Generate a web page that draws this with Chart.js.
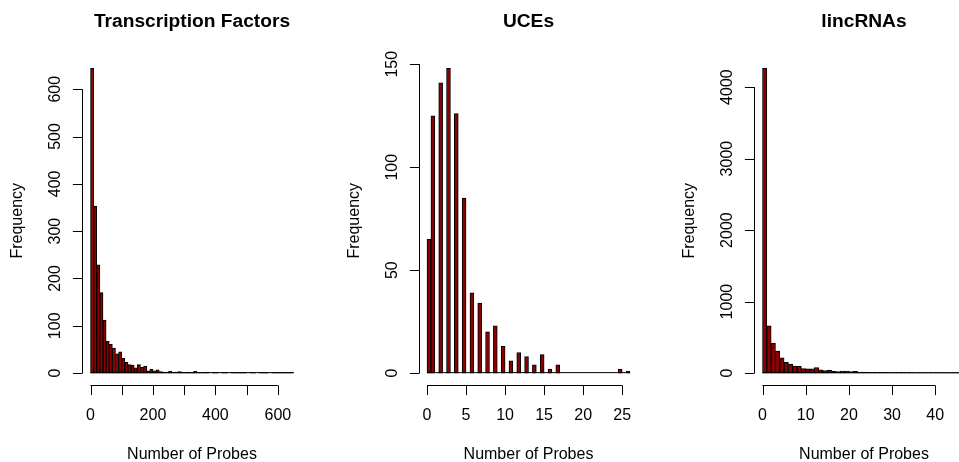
<!DOCTYPE html>
<html>
<head>
<meta charset="utf-8">
<script src="https://cdn.jsdelivr.net/npm/chart.js@4.4.0/dist/chart.umd.min.js"></script>
<style>
html,body{margin:0;padding:0;overflow:hidden;background:#fff;width:959px;height:462px;}
#wrap{position:relative;width:959px;height:462px;overflow:hidden;background:#fff;}
#wrap canvas{position:absolute;top:0;}
</style>
</head>
<body>
<div id="wrap">
<canvas id="c0" width="336" height="462" style="left:0px"></canvas>
<canvas id="c1" width="336" height="462" style="left:336px"></canvas>
<canvas id="c2" width="336" height="462" style="left:672px"></canvas>
</div>
<script>
// ---------- data ----------
const panelTitles = ["Transcription Factors", "UCEs", "lincRNAs"];
const xAxisTitle = "Number of Probes";
const yAxisTitle = "Frequency";

// Transcription Factors: histogram bins of width 10 starting at 0
const tfBinStart = 0;
const tfBinWidth = 10;
const tfCounts = [644,353,229,170,112,67,61,53,41,45,31,23,18,17,11,18,12,15,5,8,
                  5,7,3,2,2,4,2,2,3,2,1,2,1,4,1,1,1,2,0,1,
                  1,0,1,1,0,1,1,1,1,1,0,1,1,0,1,1,1,0,1,1,
                  1,1,1,1,2];
const tfXTicks = [0,100,200,300,400,500,600];
const tfXTickLabels = ["0","","200","","400","","600"];
const tfYTicks = [0,100,200,300,400,500,600];
const tfYTickLabels = ["0","100","200","300","400","500","600"];

// UCEs: histogram bins of width 0.5 starting at 0
const uceBinStart = 0;
const uceBinWidth = 0.5;
const uceCounts = [65,125,0,141,0,148,0,126,0,85,0,39,0,34,0,20,0,23,0,13,
                   0,6,0,10,0,8,0,4,0,9,0,2,0,4,0,0,0,0,0,0,
                   0,0,0,0,0,0,0,0,0,2,0,1];
const uceXTicks = [0,5,10,15,20,25];
const uceXTickLabels = ["0","5","10","15","20","25"];
const uceYTicks = [0,50,100,150];
const uceYTickLabels = ["0","50","100","150"];

// lincRNAs: histogram bins of width 1 starting at 0
const lincBinStart = 0;
const lincBinWidth = 1;
const lincCounts = [4262,660,415,308,215,150,125,98,97,62,60,60,77,45,35,38,25,22,28,28,
                    20,25,15,15,10,12,8,6,8,5,5,4,6,3,3,2,3,2,2,1,
                    2,1,1,1,1,2,1];
const lincXTicks = [0,10,20,30,40];
const lincXTickLabels = ["0","10","20","30","40"];
const lincYTicks = [0,1000,2000,3000,4000];
const lincYTickLabels = ["0","1000","2000","3000","4000"];

// ---------- layout ----------
const FONT = '"Liberation Sans", Arial, Helvetica, sans-serif';
const PLOT_TOP = 56.2, PLOT_BOTTOM = 385.3, PLOT_W = 219.2, CANVAS_W = 336, CANVAS_H = 462;
const padLefts = [82.4, 82.9, 82.4];
const BAR_FILL = '#8B0000';

function rAxesPlugin(p) {
  return {
    id: 'rAxes',
    afterDatasetsDraw(chart) {
      const ctx = chart.ctx, xs = chart.scales.x, ys = chart.scales.y, ca = chart.chartArea;
      ctx.save();
      ctx.strokeStyle = '#000';
      ctx.fillStyle = '#000';
      ctx.lineWidth = 1;
      // zero-height bins baseline (R draws empty rects as lines)
      const y0 = ys.getPixelForValue(0);
      ctx.beginPath();
      ctx.moveTo(xs.getPixelForValue(p.xmin), y0 - 0.5);
      ctx.lineTo(xs.getPixelForValue(p.xmax), y0 - 0.5);
      ctx.stroke();

      // x axis (R style, offset line from first to last tick)
      const axY = Math.round(ca.bottom) + 0.5;
      const tick = 9.6;
      const xFirst = xs.getPixelForValue(p.xTicks[0]);
      const xLast = xs.getPixelForValue(p.xTicks[p.xTicks.length - 1]);
      ctx.beginPath();
      ctx.moveTo(xFirst, axY); ctx.lineTo(xLast, axY);
      p.xTicks.forEach(v => {
        const px = Math.round(xs.getPixelForValue(v)) + 0.5;
        ctx.moveTo(px, axY); ctx.lineTo(px, axY + tick);
      });
      ctx.stroke();
      ctx.font = '16px ' + FONT;
      ctx.textAlign = 'center';
      ctx.textBaseline = 'alphabetic';
      p.xTicks.forEach((v, i) => {
        if (p.xLabels[i]) ctx.fillText(p.xLabels[i], xs.getPixelForValue(v), ca.bottom + 34.7);
      });

      // y axis
      const axX = Math.round(ca.left) + 0.5;
      const yFirst = ys.getPixelForValue(p.yTicks[0]);
      const yLast = ys.getPixelForValue(p.yTicks[p.yTicks.length - 1]);
      ctx.beginPath();
      ctx.moveTo(axX, yFirst); ctx.lineTo(axX, yLast);
      p.yTicks.forEach(v => {
        const py = Math.round(ys.getPixelForValue(v)) + 0.5;
        ctx.moveTo(axX, py); ctx.lineTo(axX - tick, py);
      });
      ctx.stroke();
      p.yTicks.forEach((v, i) => {
        ctx.save();
        ctx.translate(ca.left - 22, ys.getPixelForValue(v));
        ctx.rotate(-Math.PI / 2);
        ctx.fillText(p.yLabels[i], 0, 0);
        ctx.restore();
      });

      // axis titles
      const cx = (ca.left + ca.right) / 2, cy = (ca.top + ca.bottom) / 2;
      ctx.fillText(xAxisTitle, cx, ca.bottom + 73.7);
      ctx.save();
      ctx.translate(ca.left - 60.4, cy);
      ctx.rotate(-Math.PI / 2);
      ctx.fillText(yAxisTitle, 0, 0);
      ctx.restore();

      // main title
      ctx.font = 'bold 19.2px ' + FONT;
      ctx.fillText(p.title, cx, ca.top - 29.2);
      ctx.restore();
    }
  };
}

function makePanel(idx, counts, binStart, binWidth, xTicks, xLabels, yTicks, yLabels) {
  const pts = counts.map((c, i) => ({ x: binStart + (i + 0.5) * binWidth, y: c }));
  const xmin = binStart, xmax = binStart + counts.length * binWidth, xr = xmax - xmin;
  const ymax = Math.max(...counts);
  const padL = padLefts[idx];
  new Chart(document.getElementById('c' + idx), {
    type: 'bar',
    data: {
      datasets: [{
        data: pts,
        backgroundColor: BAR_FILL,
        borderColor: '#000000',
        borderWidth: 1,
        borderSkipped: false,
        barPercentage: 1,
        categoryPercentage: 1
      }]
    },
    options: {
      responsive: false,
      maintainAspectRatio: false,
      animation: false,
      devicePixelRatio: 1,
      events: [],
      layout: { padding: { left: padL, right: CANVAS_W - padL - PLOT_W, top: PLOT_TOP, bottom: CANVAS_H - PLOT_BOTTOM } },
      plugins: { legend: { display: false }, tooltip: { enabled: false }, title: { display: false } },
      scales: {
        x: { type: 'linear', display: false, offset: false, min: xmin - 0.04 * xr, max: xmax + 0.04 * xr },
        y: { type: 'linear', display: false, min: -0.04 * ymax, max: 1.04 * ymax }
      }
    },
    plugins: [rAxesPlugin({ title: panelTitles[idx], xmin, xmax, xTicks, xLabels, yTicks, yLabels })]
  });
}

makePanel(0, tfCounts, tfBinStart, tfBinWidth, tfXTicks, tfXTickLabels, tfYTicks, tfYTickLabels);
makePanel(1, uceCounts, uceBinStart, uceBinWidth, uceXTicks, uceXTickLabels, uceYTicks, uceYTickLabels);
makePanel(2, lincCounts, lincBinStart, lincBinWidth, lincXTicks, lincXTickLabels, lincYTicks, lincYTickLabels);
</script>
</body>
</html>
